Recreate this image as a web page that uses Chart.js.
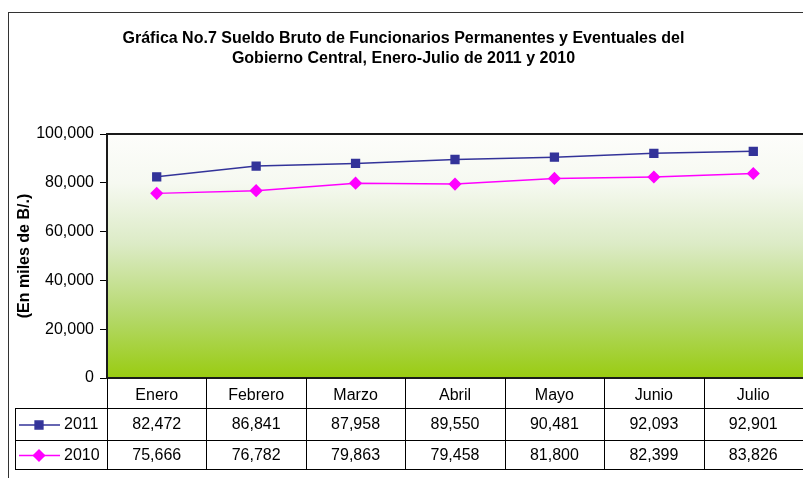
<!DOCTYPE html>
<html lang="es">
<head>
    <meta charset="UTF-8">
    <title>Gráfica No.7 Sueldo Bruto</title>
    <script src="https://cdn.jsdelivr.net/npm/chart.js"></script>
    <style>
        body {
            margin: 0;
            background: white;
            font-family: "Liberation Sans", Arial, sans-serif;
        }
        #wrap {
            width: 803px;
            height: 478px;
        }
    </style>
</head>
<body>
    <div id="wrap"><canvas id="sueldoChart" width="803" height="478"></canvas></div>

    <script>
    // datos (en miles de B/.)
    const months = ['Enero', 'Febrero', 'Marzo', 'Abril', 'Mayo', 'Junio', 'Julio'];
    const seriesNames = ['2011', '2010'];
    const values2011 = [82472, 86841, 87958, 89550, 90481, 92093, 92901];
    const values2010 = [75666, 76782, 79863, 79458, 81800, 82399, 83826];
    const yTicks = [0, 20000, 40000, 60000, 80000, 100000];

    const FONT = '"Liberation Sans", Arial, sans-serif';
    const fmt = v => v.toLocaleString('en-US');

    // frame, gradient plot background and border
    const backgroundPlugin = {
        id: 'background',
        beforeDraw(chart) {
            const ctx = chart.ctx;
            const a = chart.chartArea;
            ctx.save();
            ctx.strokeStyle = '#333';
            ctx.lineWidth = 1;
            ctx.strokeRect(8.5, 12.5, 820, 500);
            const g = ctx.createLinearGradient(0, a.top, 0, a.bottom);
            g.addColorStop(0, '#fdfdfb');
            g.addColorStop(0.2, '#f6f9f1');
            g.addColorStop(0.45, '#dcebc6');
            g.addColorStop(0.75, '#b4d86a');
            g.addColorStop(1, '#99cc11');
            ctx.fillStyle = g;
            ctx.fillRect(a.left, a.top, a.right - a.left, a.bottom - a.top);
            ctx.restore();
        },
        afterDatasetsDraw(chart) {
            const ctx = chart.ctx;
            const a = chart.chartArea;
            ctx.save();
            ctx.strokeStyle = '#1a1a1a';
            ctx.lineWidth = 2;
            ctx.strokeRect(a.left, a.top, a.right - a.left + 10, a.bottom - a.top);
            ctx.restore();
        }
    };

    // data table under the plot
    const tablePlugin = {
        id: 'dataTable',
        afterDraw(chart) {
            const ctx = chart.ctx;
            const a = chart.chartArea;
            const x = chart.scales.x;
            const half = (x.getPixelForValue(1) - x.getPixelForValue(0)) / 2;
            const rowTop = [a.bottom, a.bottom + 30, a.bottom + 62];
            const rowH = [30, 32, 29];
            const tableBottom = rowTop[2] + rowH[2];
            const legendLeft = 15;

            ctx.save();
            ctx.strokeStyle = '#000';
            ctx.lineWidth = 1;
            ctx.beginPath();
            months.forEach((m, i) => {
                const bx = Math.round(x.getPixelForValue(i) - half) + 0.5;
                ctx.moveTo(bx, a.bottom);
                ctx.lineTo(bx, tableBottom);
            });
            for (let r = 1; r < 3; r++) {
                ctx.moveTo(legendLeft, rowTop[r] + 0.5);
                ctx.lineTo(chart.width, rowTop[r] + 0.5);
            }
            ctx.moveTo(legendLeft, tableBottom + 0.5);
            ctx.lineTo(chart.width, tableBottom + 0.5);
            ctx.moveTo(legendLeft + 0.5, rowTop[1]);
            ctx.lineTo(legendLeft + 0.5, tableBottom);
            ctx.stroke();

            ctx.fillStyle = '#000';
            ctx.font = '16px ' + FONT;
            ctx.textAlign = 'center';
            ctx.textBaseline = 'middle';
            chart.data.datasets.forEach((ds, r) => {
                const cy = rowTop[r + 1] + rowH[r + 1] / 2 + 1;
                ds.data.forEach((v, i) => {
                    ctx.fillText(fmt(v), x.getPixelForValue(i), cy);
                });

                // legend key
                ctx.save();
                ctx.strokeStyle = ds.borderColor;
                ctx.lineWidth = 1.5;
                ctx.beginPath();
                ctx.moveTo(legendLeft + 4, cy);
                ctx.lineTo(legendLeft + 45, cy);
                ctx.stroke();
                ctx.fillStyle = ds.pointBackgroundColor;
                ctx.strokeStyle = ds.pointBorderColor;
                Chart.helpers.drawPoint(ctx, {
                    pointStyle: ds.pointStyle,
                    radius: ds.pointRadius,
                    borderWidth: 1,
                    rotation: 0
                }, legendLeft + 24, cy);
                ctx.restore();
                ctx.textAlign = 'left';
                ctx.fillText(ds.label, legendLeft + 49, cy);
                ctx.textAlign = 'center';
            });
            ctx.restore();
        }
    };

    new Chart(document.getElementById('sueldoChart'), {
        type: 'line',
        data: {
            labels: months,
            datasets: [
                {
                    label: seriesNames[0],
                    data: values2011,
                    borderColor: '#333399',
                    backgroundColor: '#333399',
                    pointBackgroundColor: '#333399',
                    pointBorderColor: '#333399',
                    pointStyle: 'rect',
                    pointRadius: 5.5,
                    borderWidth: 1.5,
                    tension: 0
                },
                {
                    label: seriesNames[1],
                    data: values2010,
                    borderColor: '#ff00ff',
                    backgroundColor: '#ff00ff',
                    pointBackgroundColor: '#ff00ff',
                    pointBorderColor: '#ff00ff',
                    pointStyle: 'rectRot',
                    pointRadius: 5.5,
                    borderWidth: 1.5,
                    tension: 0
                }
            ]
        },
        options: {
            responsive: false,
            animation: false,
            layout: {
                autoPadding: false,
                padding: { top: 0, right: -4, bottom: 0, left: 0 }
            },
            plugins: {
                legend: { display: false },
                tooltip: { enabled: false },
                title: {
                    display: true,
                    text: [
                        'Gráfica No.7 Sueldo Bruto de Funcionarios Permanentes y Eventuales del',
                        'Gobierno Central, Enero-Julio de 2011 y 2010'
                    ],
                    color: '#000',
                    font: { family: FONT, size: 16, weight: 'bold', lineHeight: 1.25 },
                    padding: { top: 29, bottom: 65 }
                }
            },
            scales: {
                x: {
                    offset: true,
                    grid: { display: false, offset: true },
                    border: { display: false },
                    ticks: {
                        color: '#000',
                        padding: 0,
                        font: { family: FONT, size: 16 }
                    },
                    afterFit(scale) { scale.height = 100; }
                },
                y: {
                    min: 0,
                    max: 100000,
                    afterBuildTicks(scale) {
                        scale.ticks = yTicks.map(v => ({ value: v }));
                    },
                    grid: {
                        drawOnChartArea: false,
                        tickLength: 7,
                        color: '#000'
                    },
                    border: { display: true, color: '#1a1a1a', width: 2 },
                    ticks: {
                        color: '#000',
                        padding: 6,
                        font: { family: FONT, size: 16 },
                        callback: v => fmt(v)
                    },
                    title: {
                        display: true,
                        text: '(En miles de B/.)',
                        color: '#000',
                        font: { family: FONT, size: 16, weight: 'bold' },
                        padding: { top: 15, bottom: 0 }
                    },
                    afterFit(scale) { scale.width = 107; }
                }
            }
        },
        plugins: [backgroundPlugin, tablePlugin]
    });
    </script>
</body>
</html>
